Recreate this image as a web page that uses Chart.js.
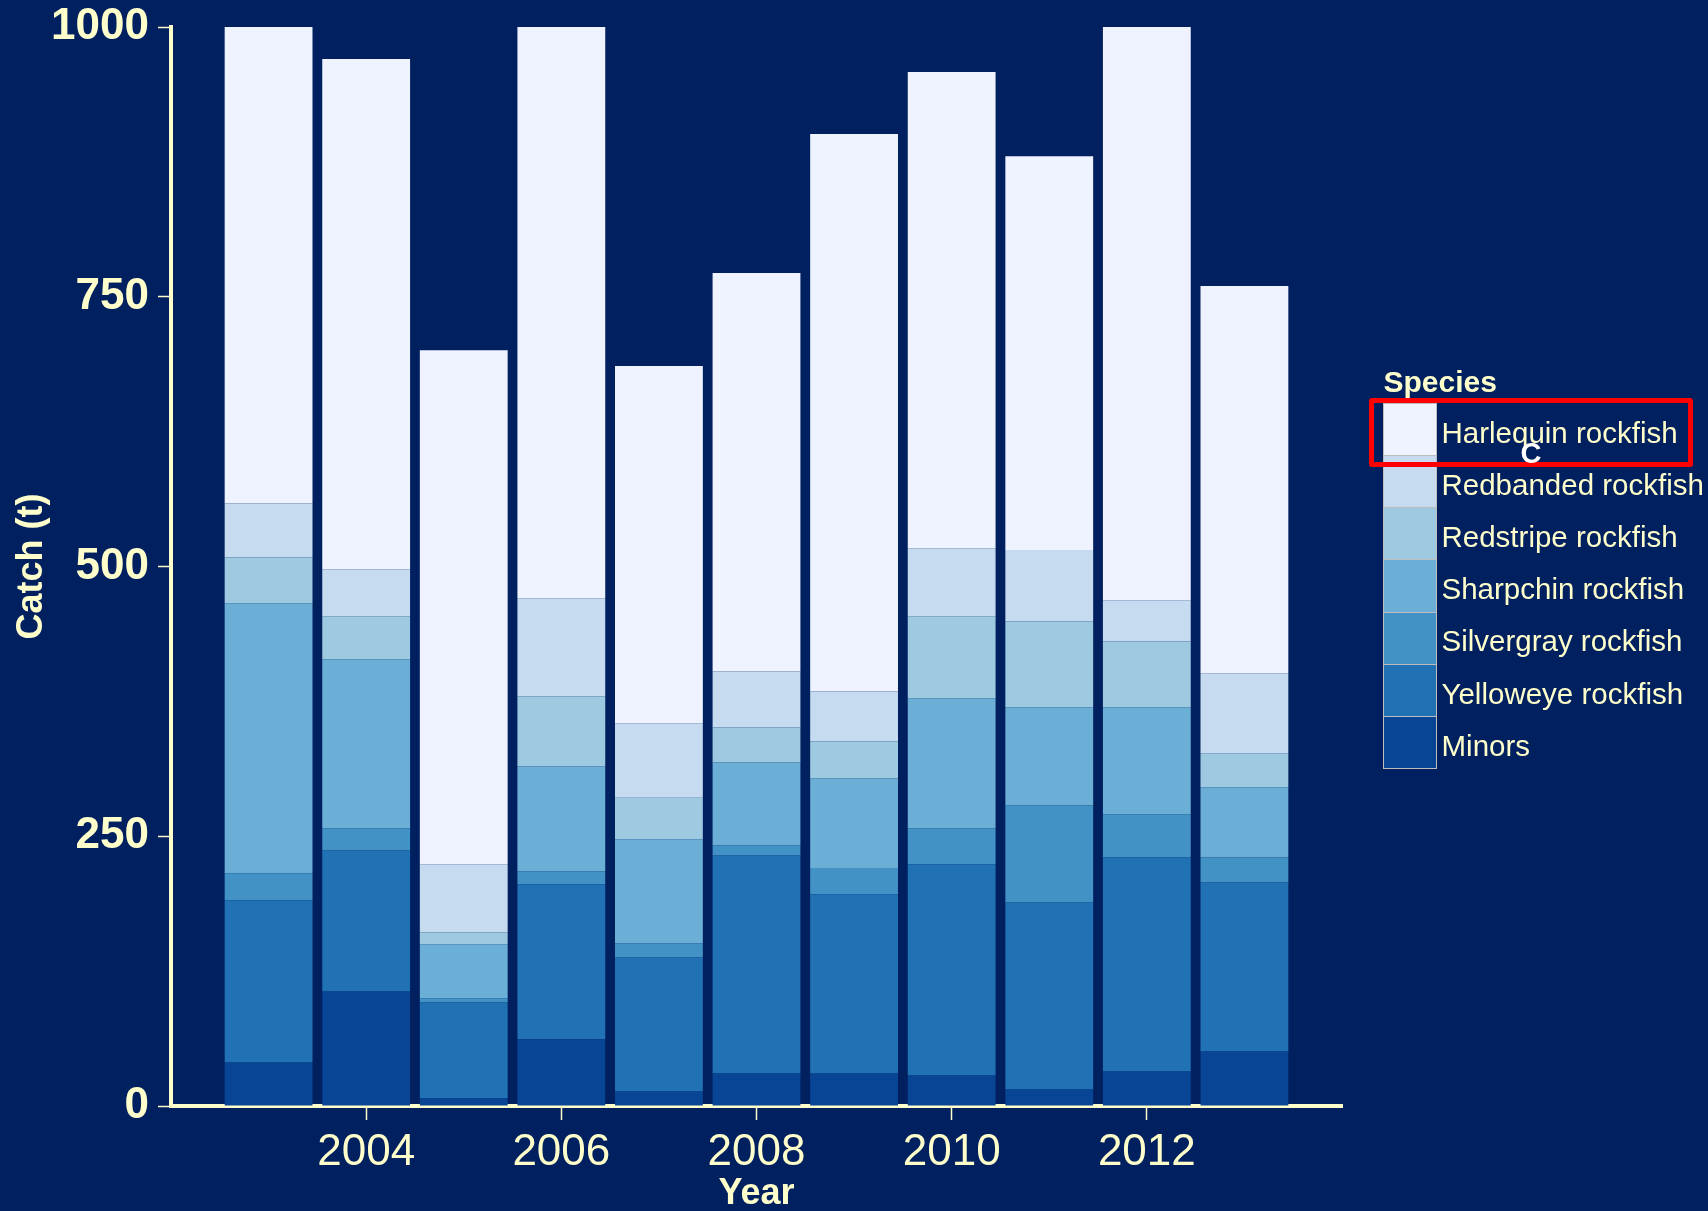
<!DOCTYPE html>
<html>
<head>
<meta charset="utf-8">
<script src="https://cdn.jsdelivr.net/npm/chart.js@4.4.0/dist/chart.umd.min.js"></script>
<style>
  html, body { margin: 0; padding: 0; background: #002060; }
  #wrap { position: relative; width: 1708px; height: 1211px; overflow: hidden; background: #002060;
          font-family: "Liberation Sans", Arial, sans-serif; }
  #c { position: absolute; left: 0; top: 0; }
  #legend { position: absolute; left: 0; top: 0; width: 1708px; height: 1211px; pointer-events: none; }
  .lg-title { position: absolute; left: 1383.5px; top: 366.5px; font-size: 30px; line-height: 29px;
              font-weight: bold; color: #FFFFCC; white-space: nowrap; }
  .lg-key { position: absolute; left: 1383px; width: 54px; box-sizing: border-box;
            border: 1px solid #bdbdbd; }
  .lg-label { position: absolute; left: 1441.5px; font-size: 29.5px; line-height: 30px; color: #FFFFCC;
              white-space: nowrap; }
  .mark-box { position: absolute; left: 1369px; top: 398px; width: 324px; height: 69px; box-sizing: border-box;
              border: 5px solid #FF0000; border-radius: 3px; }
  .mark-c { position: absolute; left: 1520.5px; top: 438.5px; font-size: 29px; line-height: 29px;
            font-weight: bold; color: #FFFFFF; }
</style>
</head>
<body>
<div id="wrap">
  <canvas id="c" width="1708" height="1211"></canvas>
  <div id="legend"></div>
</div>
<script>
// ---- data ----
const years = [2003, 2004, 2005, 2006, 2007, 2008, 2009, 2010, 2011, 2012, 2013];
const speciesNames = ["Minors", "Yelloweye rockfish", "Silvergray rockfish", "Sharpchin rockfish",
                      "Redstripe rockfish", "Redbanded rockfish", "Harlequin rockfish"];
const minors     = [40.2, 106.1,  7.1,  61.8,  13.4,  30.2,  30.2,  28.3,  15.4,  31.9,  50.4];
const yelloweye  = [150.4, 130.8, 88.8, 143.7, 124.2, 202.0, 166.0, 195.7, 173.2, 198.4, 156.7];
const silvergray = [25.1,  20.5,  3.9,  11.8,  13.2,   9.3,  24.3,  33.4,  90.0,  40.1,  23.2];
const sharpchin  = [250.3, 156.7, 50.0, 97.4,  96.4,  76.9,  83.3, 120.5,  90.8,  99.0,  64.9];
const redstripe  = [42.4,  39.7, 11.0,  64.9,  38.4,  32.4,  34.1,  75.9,  79.7,  61.2,  31.7];
const redbanded  = [50.1,  43.7, 63.2,  91.0,  69.2,  52.0,  46.3,  63.1,  66.1,  38.1,  74.2];
const harlequin  = [441.5, 472.9, 476.4, 529.4, 331.1, 369.3, 516.7, 441.4, 365.1, 531.3, 358.9];
const seriesValues = [minors, yelloweye, silvergray, sharpchin, redstripe, redbanded, harlequin];
const seriesColors = ["#084594", "#2171b5", "#4292c6", "#6baed6", "#9ecae1", "#c6dbef", "#eff3ff"];
const xTickLabels = [2004, 2006, 2008, 2010, 2012];
const yTickLabels = [0, 250, 500, 750, 1000];
const xTitle = "Year";
const yTitle = "Catch (t)";
const legendTitle = "Species";

// ---- chart ----
const cream = "#FFFFCC";
const fam = "'Liberation Sans', Arial, sans-serif";
Chart.defaults.font.family = fam;

const datasets = seriesValues.map((vals, i) => ({
  label: speciesNames[i],
  data: vals,
  backgroundColor: seriesColors[i],
  borderWidth: 0,
  barPercentage: 0.9,
  categoryPercentage: 1.0
}));

function noPad(s) { s.paddingTop = 0; s.paddingBottom = 0; s.paddingLeft = 0; s.paddingRight = 0; }

const chart = new Chart(document.getElementById("c"), {
  type: "bar",
  data: { labels: years, datasets },
  options: {
    responsive: false,
    animation: false,
    layout: { padding: { top: 27, right: 366, left: 0, bottom: 0 } },
    plugins: { legend: { display: false }, tooltip: { enabled: false } },
    scales: {
      x: {
        type: "linear", stacked: true, min: 2002, max: 2014, offset: false, z: 1,
        afterBuildTicks: s => { s.ticks = xTickLabels.map(v => ({ value: v })); },
        afterFit: s => { s.height = 105; noPad(s); },
        grid: { display: true, drawOnChartArea: false, drawTicks: true, tickLength: 14,
                tickWidth: 1.5, tickColor: cream, offset: false },
        border: { display: true, color: cream, width: 4 },
        ticks: { color: cream, font: { family: fam, size: 44 }, padding: 6,
                 maxRotation: 0, autoSkip: false, callback: v => String(v) },
        title: { display: true, text: xTitle, color: cream,
                 font: { family: fam, size: 36, weight: "bold", lineHeight: 1.0 },
                 padding: { top: 0, bottom: -1.5 } }
      },
      y: {
        stacked: true, min: 0, max: 1000, z: 1,
        afterBuildTicks: s => { s.ticks = yTickLabels.map(v => ({ value: v })); },
        afterFit: s => { s.width = 171; noPad(s); },
        grid: { display: true, drawOnChartArea: false, drawTicks: true, tickLength: 13,
                tickWidth: 1.5, tickColor: cream },
        border: { display: true, color: cream, width: 4 },
        ticks: { color: cream, font: { family: fam, size: 44, weight: "bold" }, padding: 9,
                 callback: v => String(v) },
        title: { display: true, text: yTitle, color: cream,
                 font: { family: fam, size: 36, weight: "bold" }, padding: { top: 10, bottom: 0 } }
      }
    }
  }
});

// ---- legend (HTML, built from the chart's datasets) ----
const lg = document.getElementById("legend");
const t = document.createElement("div");
t.className = "lg-title";
t.textContent = legendTitle;
lg.appendChild(t);
const keyTop = 403, keyH = 365 / 7;
const order = chart.data.datasets.slice().reverse();
order.forEach((ds, i) => {
  const top = keyTop + i * keyH;
  const k = document.createElement("div");
  k.className = "lg-key";
  k.style.top = top + "px";
  k.style.height = (keyH + 1) + "px";
  k.style.background = ds.backgroundColor;
  lg.appendChild(k);
  const l = document.createElement("div");
  l.className = "lg-label";
  l.style.top = (top + 14.9) + "px";
  l.textContent = ds.label;
  lg.appendChild(l);
});
// annotation present in the reference
const box = document.createElement("div");
box.className = "mark-box";
lg.appendChild(box);
const c = document.createElement("div");
c.className = "mark-c";
c.textContent = "C";
lg.appendChild(c);
</script>
</body>
</html>
